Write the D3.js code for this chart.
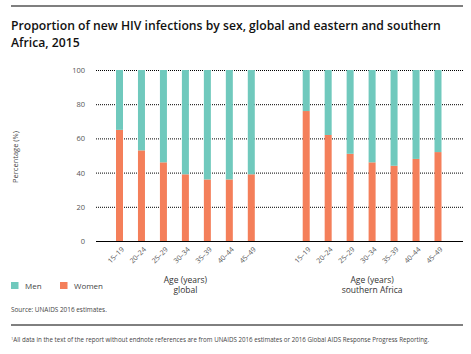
<!DOCTYPE html>
<html><head><meta charset="utf-8">
<script src="https://cdn.jsdelivr.net/npm/d3@7"></script>
<style>body{margin:0;background:#fff}svg{display:block}text{font-family:"Open Sans",sans-serif}</style>
</head><body><svg id="c" width="471" height="354"></svg>
<script>
const ageGroups = ["15–19","20–24","25–29","30–34","35–39","40–44","45–49"];
const regions = ["global","southern Africa"];
const womenGlobal = [65, 53, 46, 39, 36, 36, 39];
const womenSouthern = [76, 62, 51, 46, 44, 48, 52];
const yTicks = [0, 20, 40, 60, 80, 100];
const seriesNames = ["Men", "Women"];
const colors = {Men: "#70c9bd", Women: "#f47f5a"};

const svg = d3.select("#c");
const y = d3.scaleLinear().domain([0, 100]).range([241, 70]);
// slot positions: global 0..6, southern 8.5..14.5
const x = d3.scaleLinear().domain([0, 14.5]).range([119.5, 438]);
const barW = 7;

const rows = [];
regions.forEach((r, ri) => {
  const vals = ri === 0 ? womenGlobal : womenSouthern;
  ageGroups.forEach((a, i) => rows.push({region: r, age: a, slot: ri === 0 ? i : 8.5 + i, women: vals[i], men: 100 - vals[i]}));
});

// rules
svg.append("line").attr("x1", 11).attr("x2", 463).attr("y1", 6).attr("y2", 6).attr("stroke", "#000").attr("stroke-width", 1.2);
svg.append("line").attr("x1", 11).attr("x2", 463).attr("y1", 325).attr("y2", 325).attr("stroke", "#000").attr("stroke-width", 1);

// title
const title = svg.append("text").attr("x", 11).attr("y", 30).attr("fill", "#111").style("font-size", "12.2px").style("font-weight", 600);
title.append("tspan").attr("x", 11).attr("y", 30).text("Proportion of new HIV infections by sex, global and eastern and southern");
title.append("tspan").attr("x", 11).attr("y", 47).text("Africa, 2015");

// grid
const yAxis = d3.axisLeft(y).tickValues(yTicks).tickSize(0).tickPadding(11);
const gy = svg.append("g").attr("transform", "translate(96,0)").call(yAxis);
gy.select(".domain").remove();
gy.selectAll("text").attr("fill", "#555").style("font-size", "7.5px").attr("font-family", "'Open Sans',sans-serif");
svg.append("g").selectAll("line").data(yTicks.filter(d => d > 0)).join("line")
  .attr("x1", 96).attr("x2", 463).attr("y1", d => y(d) + 0.5).attr("y2", d => y(d) + 0.5)
  .attr("stroke", "#000").attr("stroke-width", 1).attr("stroke-dasharray", "1,1");

// bars
const stack = d3.stack().keys(["women", "men"])(rows);
svg.append("g").selectAll("g").data(stack).join("g")
  .attr("fill", (d, i) => i === 0 ? colors.Women : colors.Men)
  .selectAll("rect").data(d => d).join("rect")
  .attr("x", d => x(d.data.slot) - barW / 2).attr("width", barW)
  .attr("y", d => y(d[1])).attr("height", d => y(d[0]) - y(d[1]));

// baseline
svg.append("line").attr("x1", 96).attr("x2", 463).attr("y1", y(0) + 0.5).attr("y2", y(0) + 0.5).attr("stroke", "#000").attr("stroke-width", 1.2);

// x labels
svg.append("g").selectAll("text").data(rows).join("text")
  .attr("transform", d => `translate(${x(d.slot) + 5},${250}) rotate(-45)`)
  .attr("text-anchor", "end").attr("fill", "#555").style("font-size", "7px")
  .text(d => d.age);

// group labels
regions.forEach((r, ri) => {
  const cx = ri === 0 ? (x(0) + x(6)) / 2 : (x(8.5) + x(14.5)) / 2;
  const t = svg.append("text").attr("text-anchor", "middle").attr("fill", "#333").style("font-size", "8.5px");
  t.append("tspan").attr("x", cx).attr("y", 283).text("Age (years)");
  t.append("tspan").attr("x", cx).attr("y", 293).text(r);
});

// y label
svg.append("text").attr("transform", "translate(18,157) rotate(-90)").attr("text-anchor", "middle")
  .attr("fill", "#444").style("font-size", "7.5px").text("Percentage (%)");

// legend
const lg = svg.append("g").selectAll("g").data(seriesNames).join("g")
  .attr("transform", (d, i) => `translate(${11 + i * 49},282)`);
lg.append("rect").attr("width", 7.5).attr("height", 7).attr("fill", d => colors[d]);
lg.append("text").attr("x", 14).attr("y", 7).attr("fill", "#444").style("font-size", "8px").text(d => d);

// source & footnote
svg.append("text").attr("x", 11).attr("y", 312).attr("fill", "#444").style("font-size", "6.4px").text("Source: UNAIDS 2016 estimates.");
const fn = svg.append("text").attr("x", 11).attr("y", 342).attr("fill", "#444").style("font-size", "6.2px");
fn.append("tspan").attr("dy", "-2").style("font-size", "4px").text("1");
fn.append("tspan").attr("dy", "2").text("All data in the text of the report without endnote references are from UNAIDS 2016 estimates or 2016 Global AIDS Response Progress Reporting.");
</script></body></html>
